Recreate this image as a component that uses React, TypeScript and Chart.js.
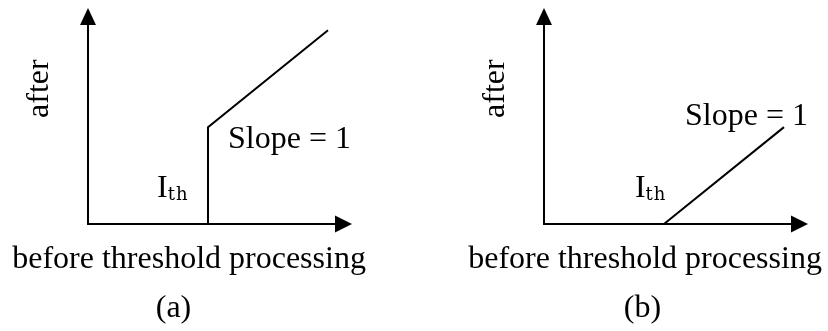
import React, { useEffect, useRef } from "react";
import { Chart, registerables } from "chart.js";

Chart.register(...registerables);

// Axis extents (threshold I_th = 1 unit on both axes)
const INPUT_MAX = 2.2;
const OUTPUT_MAX = 2.23;

// (a) hard thresholding: zero below I_th, then identity (slope 1)
const hardInput = [1, 1, 2];
const hardOutput = [0, 1, 2];

// (b) soft thresholding: shifted down by I_th (slope 1)
const softInput = [1, 2];
const softOutput = [0, 1];

const xAxisTitle = "before threshold processing";
const yAxisTitle = "after";
const slopeText = "Slope = 1";
const thresholdMain = "I";
const thresholdSub = "th";
const panelTags = ["(a)", "(b)"];

type Label = {
  kind: "text" | "threshold" | "vertical";
  text: string;
  x: number;
  y: number;
  align?: CanvasTextAlign;
};

const SERIF = "'Liberation Serif', 'Times New Roman', serif";

const schematicPlugin = {
  id: "schematic",
  afterDatasetsDraw(chart: any, _args: any, opts: any) {
    const { ctx } = chart;
    const xs = chart.scales.x;
    const ys = chart.scales.y;
    const ox = xs.getPixelForValue(0);
    const oy = ys.getPixelForValue(0);
    const xEnd = xs.getPixelForValue(xs.max);
    const yEnd = ys.getPixelForValue(ys.max);
    const head = 16;
    const half = 8;

    ctx.save();
    ctx.strokeStyle = "#000";
    ctx.fillStyle = "#000";
    ctx.lineWidth = 2;

    // axes
    ctx.beginPath();
    ctx.moveTo(ox, yEnd + head);
    ctx.lineTo(ox, oy);
    ctx.lineTo(xEnd - head, oy);
    ctx.stroke();

    // arrowheads
    ctx.beginPath();
    ctx.moveTo(ox, yEnd);
    ctx.lineTo(ox - half, yEnd + head + 1);
    ctx.lineTo(ox + half, yEnd + head + 1);
    ctx.closePath();
    ctx.fill();

    ctx.beginPath();
    ctx.moveTo(xEnd, oy);
    ctx.lineTo(xEnd - head - 1, oy - half - 0.5);
    ctx.lineTo(xEnd - head - 1, oy + half + 0.5);
    ctx.closePath();
    ctx.fill();

    // labels
    const labels: Label[] = opts.labels || [];
    ctx.textBaseline = "alphabetic";
    for (const l of labels) {
      const px = xs.getPixelForValue(l.x);
      const py = ys.getPixelForValue(l.y);
      if (l.kind === "vertical") {
        ctx.save();
        ctx.translate(px, py);
        ctx.rotate(-Math.PI / 2);
        ctx.font = `32px ${SERIF}`;
        ctx.textAlign = "center";
        ctx.fillText(l.text, 0, 0);
        ctx.restore();
      } else if (l.kind === "threshold") {
        ctx.font = `32px ${SERIF}`;
        ctx.textAlign = "left";
        ctx.fillText(thresholdMain, px, py);
        const w = ctx.measureText(thresholdMain).width;
        ctx.font = `18px 'DejaVu Serif', serif`;
        (ctx as any).letterSpacing = "1px";
        ctx.fillText(thresholdSub, px + w, py + 3);
        (ctx as any).letterSpacing = "0px";
      } else {
        ctx.font = `32px ${SERIF}`;
        ctx.textAlign = l.align || "left";
        ctx.fillText(l.text, px, py);
      }
    }
    ctx.restore();
  },
};

type PanelProps = {
  input: number[];
  output: number[];
  padLeft: number;
  padRight: number;
  labels: Label[];
  left: number;
};

function Panel({ input, output, padLeft, padRight, labels, left }: PanelProps) {
  const ref = useRef<HTMLCanvasElement | null>(null);

  useEffect(() => {
    if (!ref.current) return;
    const chart = new Chart(ref.current, {
      type: "scatter",
      data: {
        datasets: [
          {
            data: input.map((x, i) => ({ x, y: output[i] })),
            showLine: true,
            borderColor: "#000",
            borderWidth: 2,
            pointRadius: 0,
            tension: 0,
            clip: false as any,
          },
        ],
      },
      options: {
        responsive: false,
        maintainAspectRatio: false,
        animation: false,
        devicePixelRatio: 1,
        events: [],
        layout: {
          padding: { left: padLeft, right: padRight, top: 8, bottom: 107 },
        },
        scales: {
          x: { type: "linear", min: 0, max: INPUT_MAX, display: false },
          y: { type: "linear", min: 0, max: OUTPUT_MAX, display: false },
        },
        plugins: {
          legend: { display: false },
          tooltip: { enabled: false },
          schematic: { labels },
        } as any,
      },
      plugins: [schematicPlugin],
    });
    return () => chart.destroy();
  }, []);

  return (
    <canvas
      ref={ref}
      width={414}
      height={331}
      style={{ position: "absolute", left, top: 0, width: 414, height: 331 }}
    />
  );
}

export default function App() {
  const labelsA: Label[] = [
    { kind: "vertical", text: yAxisTitle, x: -0.333, y: 1.398 },
    { kind: "text", text: xAxisTitle, x: 0.842, y: -0.454, align: "center" },
    { kind: "text", text: panelTags[0], x: 0.7125, y: -0.96, align: "center" },
    { kind: "text", text: slopeText, x: 1.167, y: 0.784 },
    { kind: "threshold", text: thresholdMain + thresholdSub, x: 0.575, y: 0.279 },
  ];
  const labelsB: Label[] = [
    { kind: "vertical", text: yAxisTitle, x: -0.333, y: 1.398 },
    { kind: "text", text: xAxisTitle, x: 0.842, y: -0.454, align: "center" },
    { kind: "text", text: panelTags[1], x: 0.82, y: -0.96, align: "center" },
    { kind: "text", text: slopeText, x: 1.175, y: 1.02 },
    { kind: "threshold", text: thresholdMain + thresholdSub, x: 0.758, y: 0.279 },
  ];

  return (
    <div
      style={{
        position: "fixed",
        left: 0,
        top: 0,
        width: 828,
        height: 331,
        background: "#fff",
        overflow: "hidden",
      }}
    >
      <Panel input={hardInput} output={hardOutput} padLeft={88} padRight={62} labels={labelsA} left={0} />
      <Panel input={softInput} output={softOutput} padLeft={130} padRight={20} labels={labelsB} left={414} />
    </div>
  );
}
